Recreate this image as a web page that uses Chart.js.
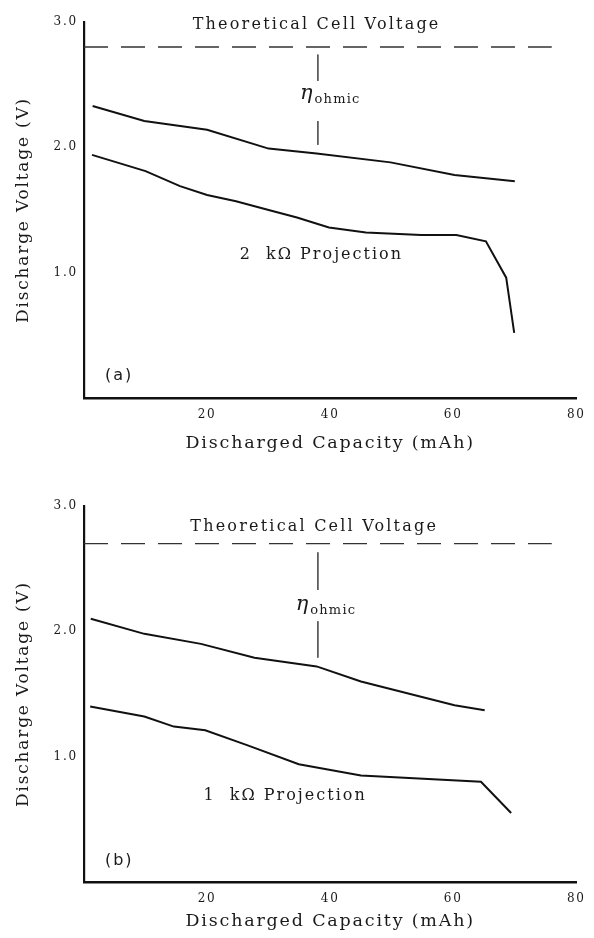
<!DOCTYPE html>
<html>
<head>
<meta charset="utf-8">
<script src="https://cdn.jsdelivr.net/npm/chart.js@4.4.1/dist/chart.umd.min.js"></script>
<style>
  html, body { margin: 0; padding: 0; background: #fff; }
  .panel { width: 594px; height: 469px; }
  canvas { display: block; }
</style>
</head>
<body>
<div class="panel"><canvas id="chartA" width="594" height="469"></canvas></div>
<div class="panel"><canvas id="chartB" width="594" height="469"></canvas></div>
<script>
// axis ticks (both panels)
const xTickValues = [20, 40, 60, 80];
const yTickValues = [1.0, 2.0, 3.0];

// panel (a) - measured curve and 2 kOhm projection
const capMeasA = [1.4, 9.8, 20, 30, 37.8, 49.8, 60.2, 70];
const voltMeasA = [2.33, 2.21, 2.14, 1.99, 1.95, 1.88, 1.78, 1.73];
const capProjA = [1.3, 10, 15.6, 20, 24.7, 30, 34.6, 39.8, 45.8, 54.8, 60.5, 65.3, 68.6, 69.9];
const voltProjA = [1.94, 1.81, 1.69, 1.62, 1.57, 1.50, 1.44, 1.36, 1.32, 1.30, 1.30, 1.25, 0.96, 0.52];
const theoryCapA = [0, 76];
const theoryVoltA = [2.8, 2.8];
const etaCapA = [38, 38, 38, 38, 38];
const etaVoltA = [2.74, 2.53, null, 2.21, 2.02];

// panel (b) - measured curve and 1 kOhm projection
const capMeasB = [1.1, 9.8, 19, 27.7, 37.8, 45, 60.2, 65.1];
const voltMeasB = [2.10, 1.98, 1.90, 1.79, 1.72, 1.60, 1.41, 1.37];
const capProjB = [1, 9.8, 14.6, 19.7, 26.6, 34.9, 45, 64.5, 69.4];
const voltProjB = [1.40, 1.32, 1.24, 1.21, 1.09, 0.94, 0.85, 0.80, 0.55];
const theoryCapB = [0, 76];
const theoryVoltB = [2.70, 2.70];
const etaCapB = [38, 38, 38, 38, 38];
const etaVoltB = [2.63, 2.33, null, 2.08, 1.79];

const SERIF = '"DejaVu Serif", "Liberation Serif", serif';

function pts(xs, ys) {
    return xs.map((x, i) => ({ x: x, y: ys[i] }));
}

// draws the text notes in data units, and spreads the letters a bit like the scan
const notesPlugin = {
    id: 'notes',
    beforeDraw(chart) {
        chart.ctx.letterSpacing = '1.8px';
    },
    afterDraw(chart) {
        const ctx = chart.ctx;
        const xs = chart.scales.x, ys = chart.scales.y;
        const notes = chart.options.plugins.notes.items;
        ctx.save();
        ctx.fillStyle = '#1a1a1a';
        ctx.textBaseline = 'middle';
        notes.forEach(n => {
            const px = xs.getPixelForValue(n.x);
            const py = ys.getPixelForValue(n.y);
            if (n.eta) {
                ctx.letterSpacing = '0px';
                ctx.font = 'italic 21px ' + SERIF;
                ctx.textAlign = 'right';
                ctx.fillText('η', px - 1, py - 2);
                ctx.letterSpacing = '1.2px';
                ctx.font = '13px ' + SERIF;
                ctx.textAlign = 'left';
                ctx.fillText('ohmic', px + 1, py + 4);
                return;
            }
            ctx.letterSpacing = n.spacing;
            ctx.font = n.font;
            ctx.textAlign = n.align;
            ctx.fillText(n.text, px, py);
        });
        ctx.restore();
        ctx.letterSpacing = '0px';
    }
};

function makePanel(id, d) {
    const ctx = document.getElementById(id).getContext('2d');
    return new Chart(ctx, {
        type: 'line',
        data: {
            datasets: [
                {
                    label: 'Theoretical Cell Voltage',
                    data: pts(d.theoryCap, d.theoryVolt),
                    borderColor: '#333',
                    borderWidth: 1.4,
                    borderDash: [24, 13]
                },
                {
                    label: 'eta ohmic',
                    data: pts(d.etaCap, d.etaVolt),
                    borderColor: '#555',
                    borderWidth: 1,
                    spanGaps: false
                },
                {
                    label: 'Measured',
                    data: pts(d.capMeas, d.voltMeas),
                    borderColor: '#111',
                    borderWidth: 2
                },
                {
                    label: 'Projection',
                    data: pts(d.capProj, d.voltProj),
                    borderColor: '#111',
                    borderWidth: 2
                }
            ]
        },
        options: {
            responsive: false,
            animation: false,
            events: [],
            elements: { point: { radius: 0 }, line: { tension: 0 } },
            layout: { padding: { top: d.padTop, right: 10, left: 0, bottom: 0 } },
            scales: {
                x: {
                    type: 'linear',
                    min: 0,
                    max: 80,
                    grid: { display: false, drawTicks: false },
                    border: { display: true, color: '#111', width: 2.5 },
                    afterBuildTicks: s => { s.ticks = xTickValues.map(v => ({ value: v })); },
                    afterFit: s => { s.height = d.xHeight; },
                    ticks: {
                        padding: 10,
                        color: '#1a1a1a',
                        font: { family: SERIF, size: 12 },
                        maxRotation: 0,
                        callback: v => String(v)
                    },
                    title: {
                        display: true,
                        text: 'Discharged Capacity (mAh)',
                        color: '#1a1a1a',
                        font: { family: SERIF, size: 17.5 },
                        padding: { top: 0, bottom: d.xTitlePad }
                    }
                },
                y: {
                    type: 'linear',
                    min: 0,
                    max: 3,
                    grid: { display: false, drawTicks: false },
                    border: { display: true, color: '#111', width: 2.2 },
                    afterBuildTicks: s => { s.ticks = yTickValues.map(v => ({ value: v })); },
                    afterFit: s => { s.width = 84; },
                    ticks: {
                        padding: 6,
                        color: '#1a1a1a',
                        font: { family: SERIF, size: 12 },
                        callback: v => v.toFixed(1)
                    },
                    title: {
                        display: true,
                        text: 'Discharge Voltage (V)',
                        color: '#1a1a1a',
                        font: { family: SERIF, size: 17 },
                        padding: { top: 13, bottom: 0 }
                    }
                }
            },
            plugins: {
                legend: { display: false },
                tooltip: { enabled: false },
                notes: { items: d.notes }
            }
        },
        plugins: [notesPlugin]
    });
}

makePanel('chartA', {
    theoryCap: theoryCapA, theoryVolt: theoryVoltA,
    etaCap: etaCapA, etaVolt: etaVoltA,
    capMeas: capMeasA, voltMeas: voltMeasA,
    capProj: capProjA, voltProj: voltProjA,
    padTop: 22, xHeight: 71, xTitlePad: 15,
    notes: [
        { text: 'Theoretical Cell Voltage', x: 37.8, y: 2.98, align: 'center', font: '16px ' + SERIF, spacing: '2.2px' },
        { eta: true, x: 37.3, y: 2.41 },
        { text: '2  kΩ Projection', x: 25.3, y: 1.14, align: 'left', font: '16px ' + SERIF, spacing: '2px' },
        { text: '(a)', x: 3.4, y: 0.18, align: 'left', font: '16px "DejaVu Sans", sans-serif', spacing: '2px' }
    ]
});

makePanel('chartB', {
    theoryCap: theoryCapB, theoryVolt: theoryVoltB,
    etaCap: etaCapB, etaVolt: etaVoltB,
    capMeas: capMeasB, voltMeas: voltMeasB,
    capProj: capProjB, voltProj: voltProjB,
    padTop: 37, xHeight: 56, xTitlePad: 6,
    notes: [
        { text: 'Theoretical Cell Voltage', x: 37.4, y: 2.83, align: 'center', font: '16px ' + SERIF, spacing: '2.2px' },
        { eta: true, x: 36.6, y: 2.20 },
        { text: '1  kΩ Projection', x: 19.4, y: 0.69, align: 'left', font: '16px ' + SERIF, spacing: '2px' },
        { text: '(b)', x: 3.4, y: 0.17, align: 'left', font: '16px "DejaVu Sans", sans-serif', spacing: '2px' }
    ]
});
</script>
</body>
</html>
